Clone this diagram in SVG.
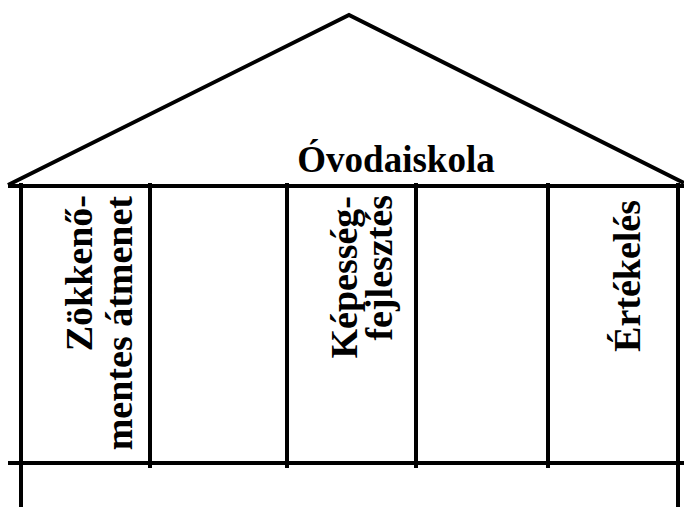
<svg xmlns="http://www.w3.org/2000/svg" width="684" height="507" viewBox="0 0 684 507">
<style>
.ln{stroke:#000;stroke-width:4;fill:none;stroke-linecap:butt}
.t{font-family:"Liberation Serif","Times New Roman",serif;font-weight:bold;fill:#000}
.h{font-size:37px}
.v{font-size:38px}
</style>
<rect width="684" height="507" fill="#fff"/>
<g id="connectors">
<polyline class="ln" points="8,185 349,15 684,183"/>
<line class="ln" x1="8" y1="186" x2="684" y2="186"/>
<line class="ln" x1="8" y1="463" x2="684" y2="463"/>
<line class="ln" x1="21" y1="183" x2="21" y2="507"/>
<line class="ln" x1="150" y1="183" x2="150" y2="468"/>
<line class="ln" x1="287" y1="183" x2="287" y2="468"/>
<line class="ln" x1="416" y1="183" x2="416" y2="468"/>
<line class="ln" x1="548" y1="183" x2="548" y2="468"/>
<line class="ln" x1="678" y1="183" x2="678" y2="507"/>
</g>
<g id="roof-label"><text class="t h" x="396" y="172" text-anchor="middle">Óvodaiskola</text></g>
<g id="col1">
<text class="t v" text-anchor="end" transform="translate(92,195) rotate(-90)">Zökkenő-</text>
<text class="t v" text-anchor="end" transform="translate(132,196) rotate(-90)">mentes átmenet</text>
</g>
<g id="col3">
<text class="t v" text-anchor="end" transform="translate(357,196) rotate(-90)">Képesség-</text>
<text class="t v" text-anchor="end" transform="translate(392,195) rotate(-90)">fejlesztés</text>
</g>
<g id="col5">
<text class="t v" text-anchor="end" transform="translate(640,200) rotate(-90)">Értékelés</text>
</g>
</svg>
